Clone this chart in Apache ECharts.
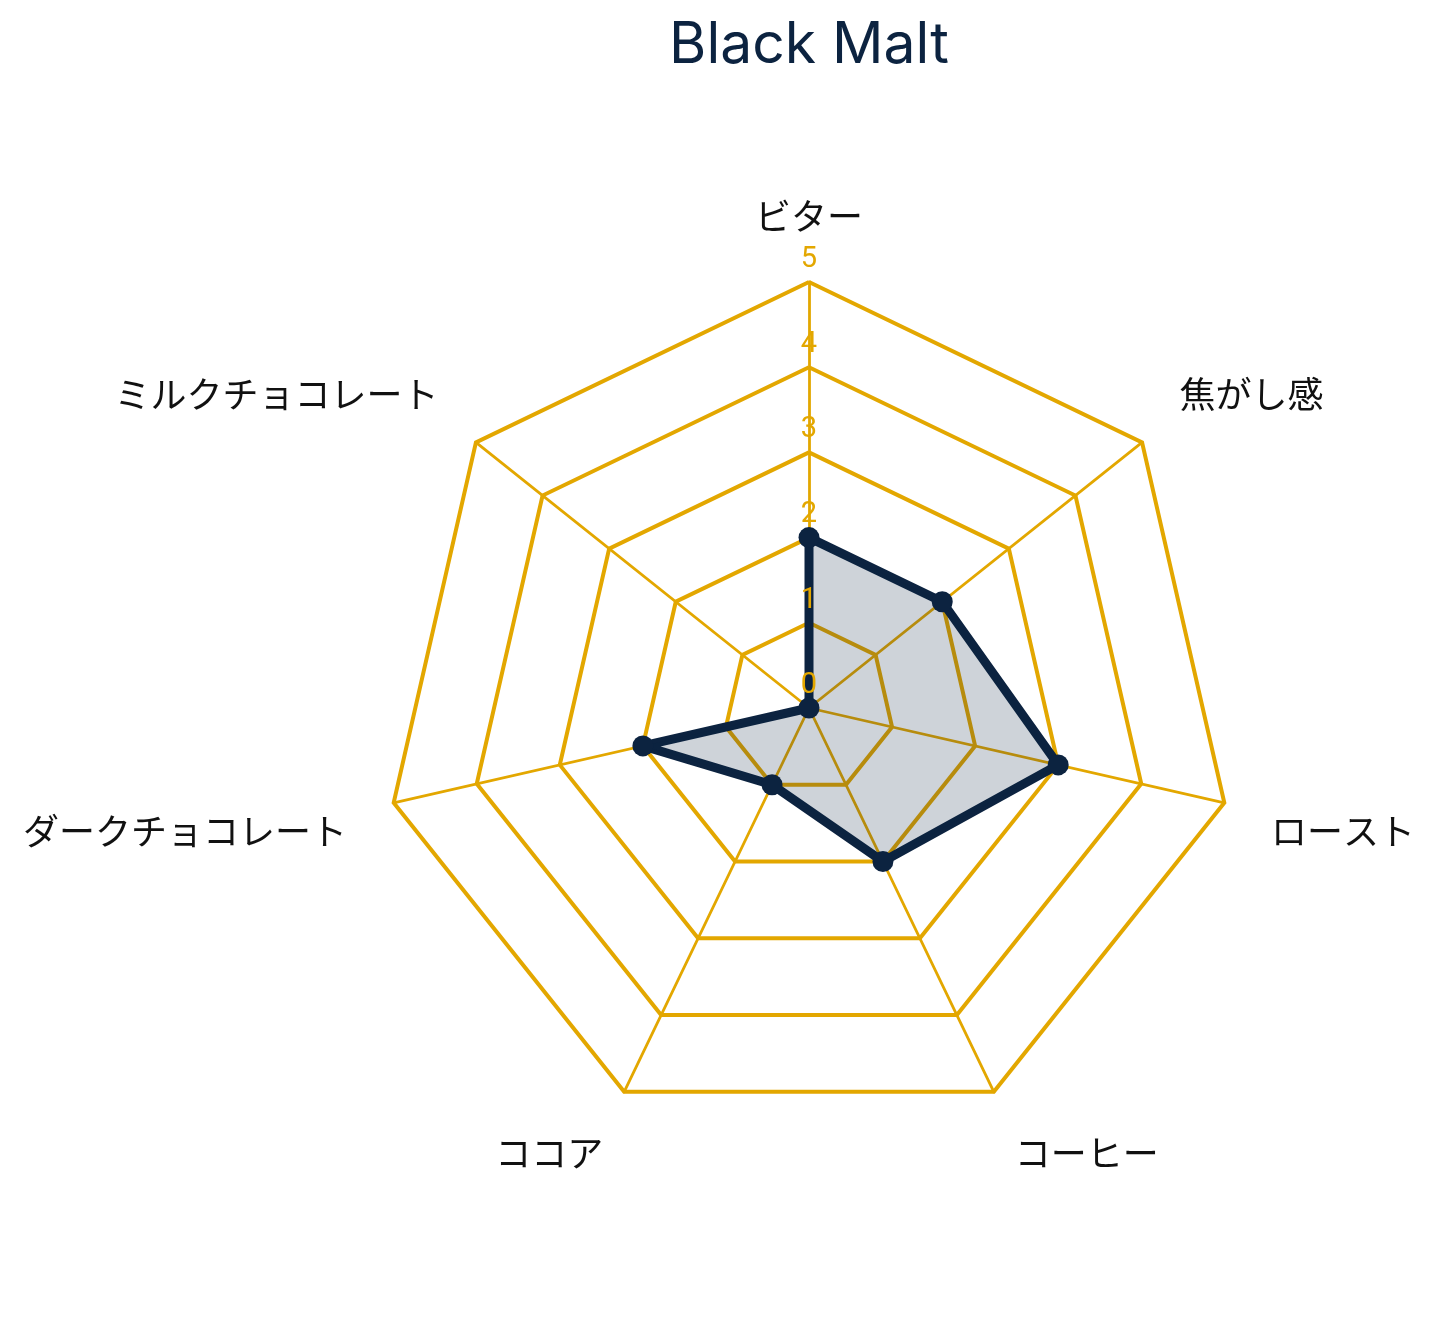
<!DOCTYPE html>
<html>
<head>
<meta charset="utf-8">
<script src="https://cdn.jsdelivr.net/npm/echarts@6/dist/echarts.min.js"></script>
<style>
html,body{margin:0;padding:0;background:#fff;}
#main{width:1440px;height:1323px;}
</style>
</head>
<body>
<div id="main"></div>
<script>
const titleText = 'Black Malt';
// clockwise from the top
const indicatorNames = ['ビター', '焦がし感', 'ロースト', 'コーヒー', 'ココア', 'ダークチョコレート', 'ミルクチョコレート'];
const seriesValues = [2, 2, 3, 2, 1, 2, 0];
const axisMax = 5;
const tickLabels = ['0', '1', '2', '3', '4', '5'];

const GOLD = '#E3A700';
const NAVY = '#0C2340';

// ECharts lays indicators out counter-clockwise; keep the first, reverse the rest
const order = [0].concat(indicatorNames.map((_, i) => i).slice(1).reverse());
const n = indicatorNames.length;

function vAlign(i) {
  const ang = i / n * 2 * Math.PI;
  return Math.cos(ang) > 0 ? 'bottom' : 'top';
}

const indicatorsMain = order.map(i => ({
  name: indicatorNames[i], max: axisMax, min: 0,
  nameTextStyle: {verticalAlign: vAlign(i)}
}));
const indicatorsLabels = order.map((i, k) => {
  const o = {name: indicatorNames[i], max: axisMax, min: 0};
  if (k === 0) o.axisLabel = {show: true};
  return o;
});
const valuesOrdered = order.map(i => seriesValues[i]);

const chart = echarts.init(document.getElementById('main'), null, {renderer: 'canvas'});
chart.setOption({
  backgroundColor: '#ffffff',
  animation: false,
  title: {
    text: titleText,
    left: 804,
    textAlign: 'center',
    top: 12,
    textStyle: {fontFamily: 'Inter', fontSize: 57, fontWeight: 'normal', color: NAVY}
  },
  radar: [{
    center: [809, 708],
    radius: 426,
    startAngle: 90,
    splitNumber: 5,
    shape: 'polygon',
    indicator: indicatorsMain,
    nameGap: 48,
    axisName: {color: '#111111', fontSize: 36, fontFamily: 'Noto Sans CJK JP'},
    axisLine: {lineStyle: {color: GOLD, width: 2.8}},
    splitLine: {lineStyle: {color: GOLD, width: 4}},
    splitArea: {show: false},
    axisTick: {show: false},
    axisLabel: {show: false}
  }, {
    z: 5,
    center: [809, 708],
    radius: 426,
    startAngle: 90,
    splitNumber: 5,
    shape: 'polygon',
    indicator: indicatorsLabels,
    axisName: {show: false},
    axisLine: {show: false},
    splitLine: {show: false},
    splitArea: {show: false},
    axisTick: {show: false},
    axisLabel: {
      show: false, color: GOLD, fontSize: 29, fontFamily: 'Roboto',
      margin: 0, align: 'center', verticalAlign: 'bottom', padding: [0, 0, 8, 0],
      formatter: v => tickLabels[Math.round(v)] !== undefined ? tickLabels[Math.round(v)] : String(v)
    }
  }],
  series: [{
    type: 'radar',
    radarIndex: 0,
    data: [{value: valuesOrdered, name: titleText}],
    symbol: 'circle',
    symbolSize: 21,
    itemStyle: {color: NAVY},
    lineStyle: {color: NAVY, width: 9},
    areaStyle: {color: 'rgba(12,35,64,0.2)', opacity: 1}
  }]
});
</script>
</body>
</html>
